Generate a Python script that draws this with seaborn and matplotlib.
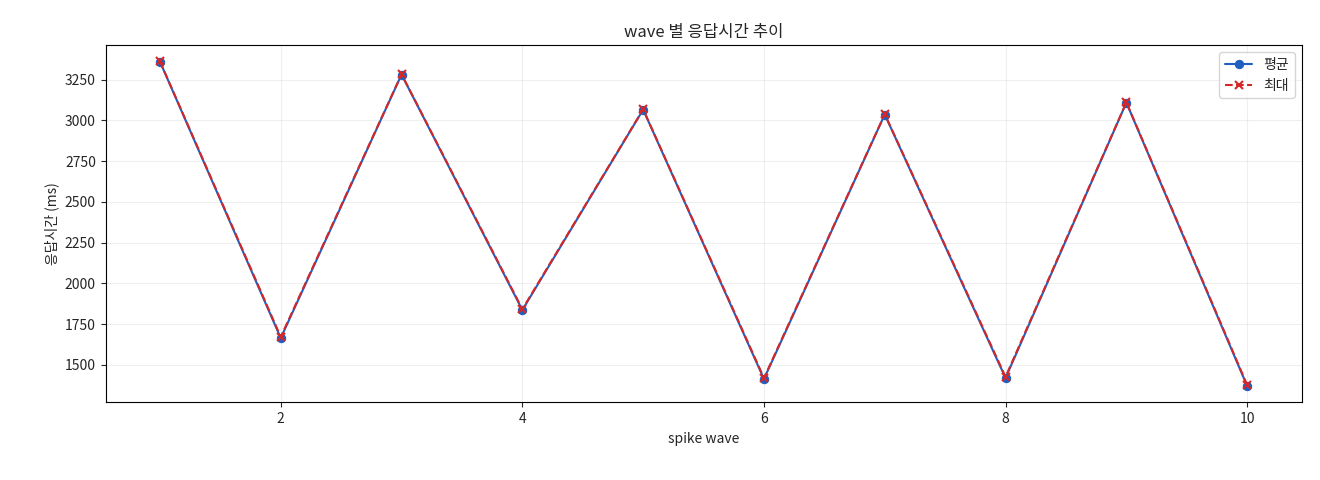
import matplotlib
matplotlib.use("Agg")
import matplotlib.pyplot as plt
import seaborn as sns
import pandas as pd

waves = [1, 2, 3, 4, 5, 6, 7, 8, 9, 10]
avg_ms = [3360, 1665, 3281, 1837, 3066, 1414, 3036, 1420, 3109, 1371]
max_ms = [3362, 1672, 3283, 1842, 3068, 1420, 3038, 1427, 3111, 1377]

sns.set_style("white")
plt.rcParams['font.family'] = ['Noto Sans CJK KR', 'DejaVu Sans']

df = pd.DataFrame({'wave': waves, 'avg': avg_ms, 'max': max_ms})

fig, ax = plt.subplots(figsize=(13.2, 4.8), dpi=100)
sns.lineplot(data=df, x='wave', y='avg', ax=ax, color='#1f5fbf', marker='o',
             markersize=6, markeredgecolor='#1f5fbf', label='평균')
sns.lineplot(data=df, x='wave', y='max', ax=ax, color='#d62728', marker='x',
             markersize=6, markeredgecolor='#d62728', markeredgewidth=1.5,
             linestyle='--', label='최대')
ax.grid(True, alpha=0.3)
ax.set_title('wave 별 응답시간 추이')
ax.set_xlabel('spike wave')
ax.set_ylabel('응답시간 (ms)')
ax.legend(loc='upper right')
for s in ax.spines.values():
    s.set_color('black')
ax.tick_params(left=True, bottom=True)
fig.subplots_adjust(left=0.08, right=0.986, top=0.906, bottom=0.162)
fig.savefig('out.png')
